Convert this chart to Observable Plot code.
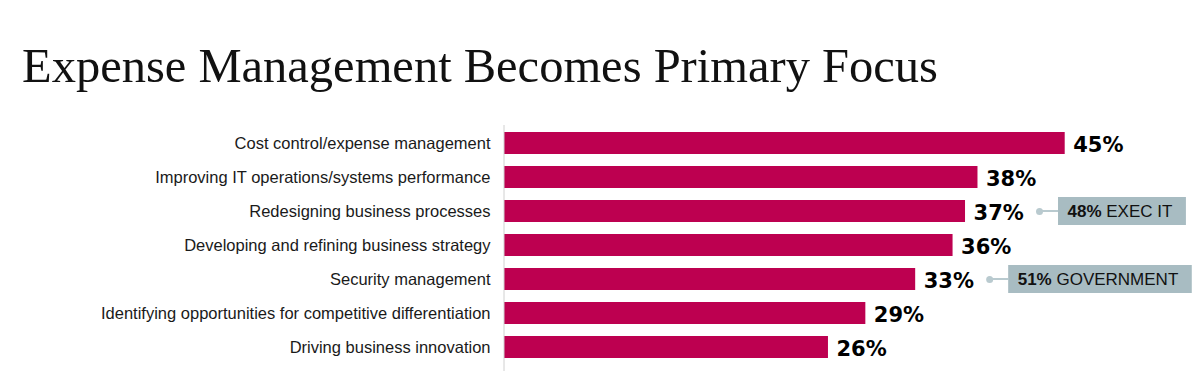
<!DOCTYPE html>
<html><head><meta charset="utf-8">
<script src="https://cdn.jsdelivr.net/npm/d3@7"></script>
<script src="https://cdn.jsdelivr.net/npm/@observablehq/plot@0.6"></script>
<style>
html,body{margin:0;padding:0;background:#fff;width:1200px;height:371px;overflow:hidden;}
#title{position:absolute;left:22px;top:42px;font-family:"Liberation Serif",serif;font-size:48.5px;line-height:1;color:#111;white-space:nowrap;}
#chart{position:absolute;left:0;top:100px;}
</style></head><body>
<div id="title">Expense Management Becomes Primary Focus</div>
<div id="chart"></div>
<script>
const categories = [
  "Cost control/expense management",
  "Improving IT operations/systems performance",
  "Redesigning business processes",
  "Developing and refining business strategy",
  "Security management",
  "Identifying opportunities for competitive differentiation",
  "Driving business innovation"
];
const values = [45, 38, 37, 36, 33, 29, 26];
const calloutCategories = ["Redesigning business processes", "Security management"];
const calloutValues = ["48%", "51%"];
const calloutLabels = ["EXEC IT", "GOVERNMENT"];

const data = categories.map((c, i) => ({category: c, value: values[i]}));
const callouts = calloutCategories.map((c, i) => ({
  category: c, value: values[categories.indexOf(c)], pct: calloutValues[i], label: calloutLabels[i]
}));

const BAR = "#bd0050", BOX = "#a8bcc2", DOT = "#b9cacf";
const DOT_DX = 74, TEXT_DX = 102;

const plot = Plot.plot({
  width: 1200, height: 271,
  marginTop: 25, marginBottom: 0, marginLeft: 504, marginRight: 0,
  x: {domain: [0, 50], range: [504, 1127], axis: null},
  y: {domain: categories, range: [29.6, 260.5], paddingInner: 0.35, paddingOuter: 0, label: null},
  style: {fontFamily: "'Liberation Sans', Arial, sans-serif", background: "transparent", overflow: "visible"},
  marks: [
    Plot.axisY({tickSize: 0, tickPadding: 14, fontSize: 16.5, fill: "#1a1a1a", label: null}),
    Plot.barX(data, {x: "value", y: "category", fill: BAR}),
    Plot.ruleX([0], {stroke: "#d0d0d0", strokeWidth: 1, dx: -0.5}),
    Plot.text(data, {x: "value", y: "category", text: d => d.value + "%", dx: 8, dy: 2,
      textAnchor: "start", fontSize: 21, fontWeight: "bold", fontFamily: "'DejaVu Sans', sans-serif", fill: "#000"}),
    Plot.dot(callouts, {x: "value", y: "category", dx: DOT_DX, r: 3.5, fill: DOT, stroke: "none"}),
    Plot.text(callouts, {x: "value", y: "category", text: d => d.pct + " " + d.label, dx: TEXT_DX, dy: 0.5,
      textAnchor: "start", fontSize: 17, fill: "#111", className: "callout-text"})
  ]
});
document.getElementById("chart").appendChild(plot);

// Callout boxes sized to their text, positioned with the plot's scales
const xs = plot.scale("x"), ys = plot.scale("y");
const svg = d3.select(plot);
const textGroup = plot.querySelector("g.callout-text");
const boxes = svg.insert("g", () => textGroup);
svg.selectAll("g.callout-text text").each(function(_, i) {
  const d = callouts[i];
  const t = d3.select(this);
  t.text(null);
  t.append("tspan").attr("font-weight", "bold").text(d.pct);
  t.append("tspan").text(" " + d.label);
  const w = this.getComputedTextLength();
  const cy = ys.apply(d.category) + ys.bandwidth / 2;
  const dotX = xs.apply(d.value) + DOT_DX;
  const boxX = xs.apply(d.value) + TEXT_DX - 9;
  boxes.append("line")
    .attr("x1", dotX).attr("x2", boxX).attr("y1", cy).attr("y2", cy)
    .attr("stroke", DOT).attr("stroke-width", 2);
  boxes.append("rect")
    .attr("x", boxX).attr("y", cy - 14)
    .attr("width", w + 9 + 14).attr("height", 28)
    .attr("fill", BOX);
});
</script>
</body></html>
